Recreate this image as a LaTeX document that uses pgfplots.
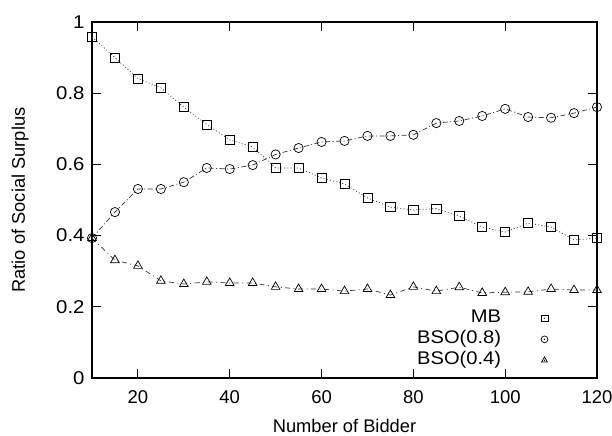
\documentclass[border=0pt]{standalone}
\usepackage{fontspec}
\setmainfont{Liberation Sans}
\newfontfamily\widefont[FakeStretch=1.1]{Liberation Sans}
\usepackage{pgfplots}
\pgfplotsset{compat=1.18}
\begin{document}
\begin{tikzpicture}
\path[use as bounding box] (-92bp,-58bp) rectangle (520bp,378bp);
\begin{axis}[
  scale only axis, width=505bp, height=356bp,
  xmin=10, xmax=120, ymin=0, ymax=1,
  xtick={20,40,...,120}, ytick={0,0.2,...,1},
  yticklabels={0,0.2,0.4,0.6,0.8,1},
  tick align=inside, major tick length=9bp,
  axis line style={line width=1.1bp},
  every tick/.style={line width=1bp, black},
  /pgf/number format/assume math mode=true,
  x tick label style={font=\fontsize{18.5bp}{21bp}\selectfont, yshift=-9bp},
  y tick label style={font=\widefont\fontsize{18.5bp}{21bp}\selectfont, xshift=-4bp},
  label style={font=\fontsize{18.3bp}{21bp}\selectfont},
  xlabel={Number of Bidder}, ylabel={Ratio of Social Surplus},
  xlabel style={at={(axis description cs:0.5,-0.154)}, anchor=base},
  ylabel style={at={(axis description cs:-0.1327,0.5)}, anchor=base},
  legend plot pos=right, legend cell align=right,
  legend style={draw=none, fill=none, font=\widefont\fontsize{18.3bp}{21bp}\selectfont,
    at={(rel axis cs:0.9032,0.192)}, anchor=north east, column sep=40bp, row sep=4bp, inner sep=0pt,
    nodes={inner sep=0pt, text height=13bp, text depth=4bp}},
  legend image code/.code={\draw[#1, mark size=3.4bp] plot[only marks] coordinates {(0.3cm,0cm)};
    \fill[black] (0.3cm,0cm) circle (0.35bp);},
]
\addplot[black!80, line width=0.7bp, dash pattern=on 1bp off 2.2bp, mark=square, mark size=4.6bp, mark options={solid, black, fill=none, line width=0.7bp}] coordinates {
(10,0.958)(15,0.900)(20,0.841)(25,0.815)(30,0.761)(35,0.712)(40,0.669)(45,0.649)
(50,0.590)(55,0.590)(60,0.562)(65,0.545)(70,0.506)(75,0.480)(80,0.472)(85,0.476)
(90,0.455)(95,0.424)(100,0.410)(105,0.435)(110,0.424)(115,0.388)(120,0.393)};
\addlegendentry{MB}
\addplot[black!80, line width=0.7bp, dash pattern=on 5bp off 2.5bp on 1bp off 2.5bp, mark=o, mark size=4.6bp, mark options={solid, black, fill=none, line width=0.7bp}] coordinates {
(10,0.393)(15,0.466)(20,0.531)(25,0.531)(30,0.550)(35,0.590)(40,0.587)(45,0.598)
(50,0.628)(55,0.646)(60,0.663)(65,0.666)(70,0.680)(75,0.680)(80,0.683)(85,0.716)
(90,0.722)(95,0.736)(100,0.756)(105,0.733)(110,0.731)(115,0.744)(120,0.761)};
\addlegendentry{BSO(0.8)}
\addplot[black!80, line width=0.7bp, dash pattern=on 5bp off 3.5bp on 1bp off 3.5bp, mark=triangle, mark size=5bp, mark options={solid, black, fill=none, line width=0.7bp}] coordinates {
(10,0.393)(15,0.331)(20,0.315)(25,0.273)(30,0.264)(35,0.270)(40,0.267)(45,0.267)
(50,0.256)(55,0.250)(60,0.250)(65,0.244)(70,0.250)(75,0.233)(80,0.256)(85,0.244)
(90,0.255)(95,0.239)(100,0.241)(105,0.242)(110,0.250)(115,0.247)(120,0.247)};
\addlegendentry{BSO(0.4)}
\end{axis}
\end{tikzpicture}
\end{document}
